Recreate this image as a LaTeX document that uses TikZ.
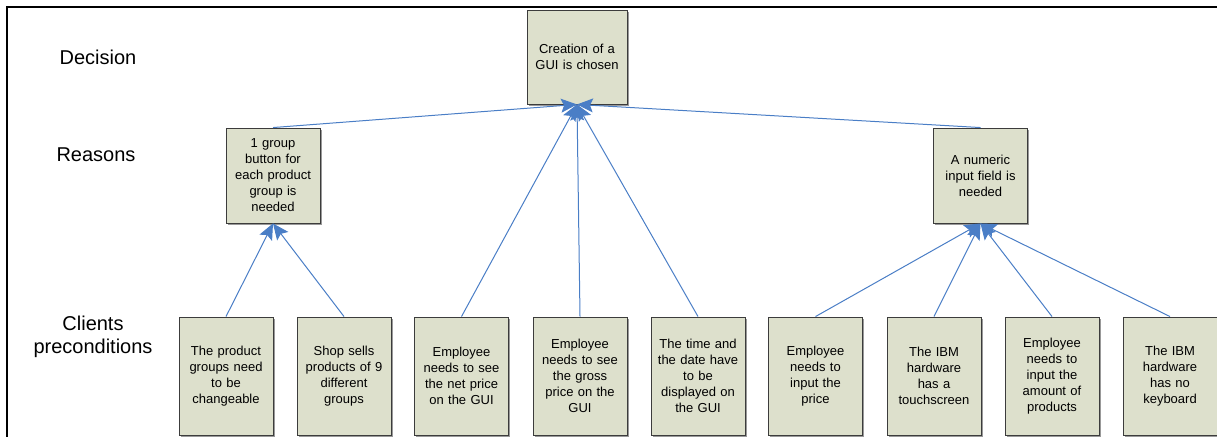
\documentclass[tikz,border=0pt]{standalone}
\usepackage{fontspec}
\setmainfont{Liberation Sans}
\usetikzlibrary{arrows.meta,shadows}
\definecolor{boxfill}{RGB}{221,224,204}
\definecolor{boxline}{RGB}{60,60,60}
\definecolor{linkblue}{RGB}{74,126,198}
\begin{document}
\begin{tikzpicture}[x=1pt,y=-1pt,
  card/.style={draw=boxline,line width=0.9pt,fill=boxfill,align=center,
    inner sep=2pt,text=black,font=\fontsize{13}{16}\selectfont,
    drop shadow={shadow xshift=1.5pt,shadow yshift=-1.5pt,fill=black!40,opacity=1}},
  topcard/.style={card,minimum width=100pt,minimum height=94pt,text width=94pt},
  reasoncard/.style={card,minimum width=94pt,minimum height=95pt,text width=88pt},
  leafcard/.style={card,minimum width=94pt,minimum height=118pt,text width=88pt},
  rowlabel/.style={align=center,font=\fontsize{20}{23}\selectfont,text=black},
  link/.style={draw=linkblue,line width=1pt,
    -{Stealth[length=16pt,width=14pt,inset=3pt]}}]
\useasboundingbox (0,0) rectangle (1217,437);

% page frame
\draw[line width=2pt] (1217,7) -- (7,7) -- (7,437);

% row captions
\node[rowlabel] (lblDecision) at (98,57) {Decision};
\node[rowlabel] (lblReasons) at (96,155) {Reasons};
\node[rowlabel] (lblClients) at (93,337) {Clients\\preconditions};

% decision
\node[topcard] (decision) at (577,57) {Creation of a\\GUI is chosen};

% reasons
\node[reasoncard] (groupbtn) at (273,175.5) {1 group\\button for\\each product\\group is\\needed};
\node[reasoncard] (numeric) at (980.5,175.5) {A numeric\\input field is\\needed};

% client preconditions
\node[leafcard] (p1) at (226,376) {The product\\groups need\\to be\\changeable};
\node[leafcard] (p2) at (344,376) {Shop sells\\products of 9\\different\\groups};
\node[leafcard] (p3) at (461.5,376) {Employee\\needs to see\\the net price\\on the GUI};
\node[leafcard] (p4) at (580,376) {Employee\\needs to see\\the gross\\price on the\\GUI};
\node[leafcard] (p5) at (698,376) {The time and\\the date have\\to be\\displayed on\\the GUI};
\node[leafcard] (p6) at (815.5,376) {Employee\\needs to\\input the\\price};
\node[leafcard] (p7) at (934,376) {The IBM\\hardware\\has a\\touchscreen};
\node[leafcard] (p8) at (1052,376) {Employee\\needs to\\input the\\amount of\\products};
\node[leafcard] (p9) at (1170,376) {The IBM\\hardware\\has no\\keyboard};

% links
\draw[link] (groupbtn.north) -- (decision.south);
\draw[link] (numeric.north) -- (decision.south);
\draw[link] (p1.north) -- (groupbtn.south);
\draw[link] (p2.north) -- (groupbtn.south);
\draw[link] (p3.north) -- (decision.south);
\draw[link] (p4.north) -- (decision.south);
\draw[link] (p5.north) -- (decision.south);
\draw[link] (p6.north) -- (numeric.south);
\draw[link] (p7.north) -- (numeric.south);
\draw[link] (p8.north) -- (numeric.south);
\draw[link] (p9.north) -- (numeric.south);
\end{tikzpicture}
\end{document}
